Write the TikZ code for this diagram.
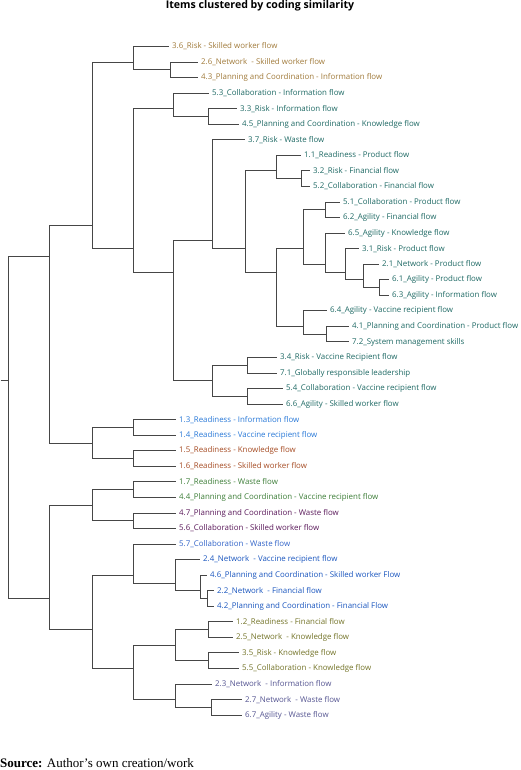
\documentclass[tikz,border=0pt]{standalone}
\usepackage{fontspec}
\newfontfamily\labfont{Open Sans}
\newfontfamily\srcfont{Liberation Serif}
\definecolor{cgold}{RGB}{160,122,58}
\definecolor{cteal}{RGB}{30,105,100}
\definecolor{cblueA}{RGB}{40,120,215}
\definecolor{crust}{RGB}{165,75,35}
\definecolor{cgreen}{RGB}{60,125,55}
\definecolor{cpurple}{RGB}{90,25,90}
\definecolor{cblueB}{RGB}{50,100,200}
\definecolor{cblueC}{RGB}{25,85,190}
\definecolor{colive}{RGB}{115,115,40}
\definecolor{cslate}{RGB}{85,85,145}
\definecolor{cline}{RGB}{70,70,70}
\tikzset{
  leaf/.style={anchor=west,inner xsep=3pt,inner ysep=0pt,font=\labfont\fontsize{7.9}{9}\selectfont,text=#1},
  br/.style={draw=cline,line width=0.95pt},
}
\begin{document}
\begin{tikzpicture}[x=1pt,y=-1pt]
\useasboundingbox (0,0) rectangle (520,770);
% title and source
\node[anchor=base,inner sep=0pt,font=\labfont\bfseries\fontsize{10.6}{12}\selectfont] (title) at (260,9) {Items clustered by coding similarity};
\node[anchor=base west,inner sep=0pt,font=\srcfont\fontsize{13}{15}\selectfont] (source) at (0,767) {\textbf{Source:} Author’s own creation/work};
% leaves
\node[leaf=cgold] (l1) at (169,46.50) {3.6\_Risk - Skilled worker flow};
\node[leaf=cgold] (l2) at (198,62.05) {2.6\_Network~ - Skilled worker flow};
\node[leaf=cgold] (l3) at (198,77.60) {4.3\_Planning and Coordination - Information flow};
\node[leaf=cteal] (l4) at (209,93.15) {5.3\_Collaboration - Information flow};
\node[leaf=cteal] (l5) at (237,108.70) {3.3\_Risk - Information flow};
\node[leaf=cteal] (l6) at (239,124.25) {4.5\_Planning and Coordination - Knowledge flow};
\node[leaf=cteal] (l7) at (245,139.80) {3.7\_Risk - Waste flow};
\node[leaf=cteal] (l8) at (301,155.35) {1.1\_Readiness - Product flow};
\node[leaf=cteal] (l9) at (310,170.90) {3.2\_Risk - Financial flow};
\node[leaf=cteal] (l10) at (310,186.45) {5.2\_Collaboration - Financial flow};
\node[leaf=cteal] (l11) at (340,202.00) {5.1\_Collaboration - Product flow};
\node[leaf=cteal] (l12) at (340,217.55) {6.2\_Agility - Financial flow};
\node[leaf=cteal] (l13) at (345,233.10) {6.5\_Agility - Knowledge flow};
\node[leaf=cteal] (l14) at (359,248.65) {3.1\_Risk - Product flow};
\node[leaf=cteal] (l15) at (379,264.20) {2.1\_Network - Product flow};
\node[leaf=cteal] (l16) at (389,279.75) {6.1\_Agility - Product flow};
\node[leaf=cteal] (l17) at (389,295.30) {6.3\_Agility - Information flow};
\node[leaf=cteal] (l18) at (327,310.85) {6.4\_Agility - Vaccine recipient flow};
\node[leaf=cteal] (l19) at (349,326.40) {4.1\_Planning and Coordination - Product flow};
\node[leaf=cteal] (l20) at (349,341.95) {7.2\_System management skills};
\node[leaf=cteal] (l21) at (277,357.50) {3.4\_Risk - Vaccine Recipient flow};
\node[leaf=cteal] (l22) at (277,373.05) {7.1\_Globally responsible leadership};
\node[leaf=cteal] (l23) at (283,388.60) {5.4\_Collaboration - Vaccine recipient flow};
\node[leaf=cteal] (l24) at (283,404.15) {6.6\_Agility - Skilled worker flow};
\node[leaf=cblueA] (l25) at (176,419.70) {1.3\_Readiness - Information flow};
\node[leaf=cblueA] (l26) at (176,435.25) {1.4\_Readiness - Vaccine recipient flow};
\node[leaf=crust] (l27) at (176,450.80) {1.5\_Readiness - Knowledge flow};
\node[leaf=crust] (l28) at (176,466.35) {1.6\_Readiness - Skilled worker flow};
\node[leaf=cgreen] (l29) at (176,481.90) {1.7\_Readiness - Waste flow};
\node[leaf=cgreen] (l30) at (176,497.45) {4.4\_Planning and Coordination - Vaccine recipient flow};
\node[leaf=cpurple] (l31) at (176,513.00) {4.7\_Planning and Coordination - Waste flow};
\node[leaf=cpurple] (l32) at (176,528.55) {5.6\_Collaboration - Skilled worker flow};
\node[leaf=cblueB] (l33) at (176,544.10) {5.7\_Collaboration - Waste flow};
\node[leaf=cblueC] (l34) at (200,559.65) {2.4\_Network~ - Vaccine recipient flow};
\node[leaf=cblueC] (l35) at (207,575.20) {4.6\_Planning and Coordination - Skilled worker Flow};
\node[leaf=cblueC] (l36) at (214,590.75) {2.2\_Network~ - Financial flow};
\node[leaf=cblueC] (l37) at (214,606.30) {4.2\_Planning and Coordination - Financial Flow};
\node[leaf=colive] (l38) at (233,621.85) {1.2\_Readiness - Financial flow};
\node[leaf=colive] (l39) at (233,637.40) {2.5\_Network~ - Knowledge flow};
\node[leaf=colive] (l40) at (239,652.95) {3.5\_Risk - Knowledge flow};
\node[leaf=colive] (l41) at (239,668.50) {5.5\_Collaboration - Knowledge flow};
\node[leaf=cslate] (l42) at (212,684.05) {2.3\_Network~ - Information flow};
\node[leaf=cslate] (l43) at (242,699.60) {2.7\_Network~ - Waste flow};
\node[leaf=cslate] (l44) at (242,715.15) {6.7\_Agility - Waste flow};
% internal nodes
\coordinate (stub) at (0.7,380.83);
\coordinate (root) at (8,380.83);
\coordinate (P1) at (49,256.43);
\coordinate (C) at (92,225.33);
\coordinate (A) at (133,62.05);
\coordinate (B) at (170,69.83);
\coordinate (D) at (133,248.65);
\coordinate (E) at (173,108.70);
\coordinate (F) at (208,116.48);
\coordinate (G) at (173,271.98);
\coordinate (H) at (212,240.88);
\coordinate (J) at (245,248.65);
\coordinate (K) at (276,170.90);
\coordinate (M) at (301,178.68);
\coordinate (L) at (276,271.98);
\coordinate (N) at (303,248.65);
\coordinate (Pn) at (325,209.78);
\coordinate (S) at (325,264.20);
\coordinate (T) at (345,271.98);
\coordinate (U) at (363,279.75);
\coordinate (V) at (379,287.53);
\coordinate (O) at (303,326.40);
\coordinate (W) at (326,334.18);
\coordinate (I) at (212,380.83);
\coordinate (X) at (247,365.28);
\coordinate (Y) at (247,396.38);
\coordinate (Q) at (92,442.98);
\coordinate (Z1) at (133,427.48);
\coordinate (Z2) at (133,458.58);
\coordinate (P2) at (49,598.53);
\coordinate (R1) at (92,505.23);
\coordinate (Z3) at (133,489.68);
\coordinate (Z4) at (133,520.78);
\coordinate (R2) at (92,629.63);
\coordinate (R3) at (133,575.20);
\coordinate (R5) at (175,582.98);
\coordinate (R6) at (200,590.75);
\coordinate (R7) at (207,598.53);
\coordinate (R4) at (133,668.50);
\coordinate (R8) at (175,645.18);
\coordinate (R10) at (208,629.63);
\coordinate (R11) at (208,660.73);
\coordinate (R9) at (175,699.60);
\coordinate (R12) at (211,707.38);
% connectors
\draw[br] (stub) -- (root);
\draw[br] (root) |- (P1); \draw[br] (root) |- (P2);
\draw[br] (P1) |- (C); \draw[br] (P1) |- (Q);
\draw[br] (C) |- (A); \draw[br] (C) |- (D);
\draw[br] (A) |- (l1.west); \draw[br] (A) |- (B);
\draw[br] (B) |- (l2.west); \draw[br] (B) |- (l3.west);
\draw[br] (D) |- (E); \draw[br] (D) |- (G);
\draw[br] (E) |- (l4.west); \draw[br] (E) |- (F);
\draw[br] (F) |- (l5.west); \draw[br] (F) |- (l6.west);
\draw[br] (G) |- (H); \draw[br] (G) |- (I);
\draw[br] (H) |- (l7.west); \draw[br] (H) |- (J);
\draw[br] (J) |- (K); \draw[br] (J) |- (L);
\draw[br] (K) |- (l8.west); \draw[br] (K) |- (M);
\draw[br] (M) |- (l9.west); \draw[br] (M) |- (l10.west);
\draw[br] (L) |- (N); \draw[br] (L) |- (O);
\draw[br] (N) |- (Pn); \draw[br] (N) |- (S);
\draw[br] (Pn) |- (l11.west); \draw[br] (Pn) |- (l12.west);
\draw[br] (S) |- (l13.west); \draw[br] (S) |- (T);
\draw[br] (T) |- (l14.west); \draw[br] (T) |- (U);
\draw[br] (U) |- (l15.west); \draw[br] (U) |- (V);
\draw[br] (V) |- (l16.west); \draw[br] (V) |- (l17.west);
\draw[br] (O) |- (l18.west); \draw[br] (O) |- (W);
\draw[br] (W) |- (l19.west); \draw[br] (W) |- (l20.west);
\draw[br] (I) |- (X); \draw[br] (I) |- (Y);
\draw[br] (X) |- (l21.west); \draw[br] (X) |- (l22.west);
\draw[br] (Y) |- (l23.west); \draw[br] (Y) |- (l24.west);
\draw[br] (Q) |- (Z1); \draw[br] (Q) |- (Z2);
\draw[br] (Z1) |- (l25.west); \draw[br] (Z1) |- (l26.west);
\draw[br] (Z2) |- (l27.west); \draw[br] (Z2) |- (l28.west);
\draw[br] (P2) |- (R1); \draw[br] (P2) |- (R2);
\draw[br] (R1) |- (Z3); \draw[br] (R1) |- (Z4);
\draw[br] (Z3) |- (l29.west); \draw[br] (Z3) |- (l30.west);
\draw[br] (Z4) |- (l31.west); \draw[br] (Z4) |- (l32.west);
\draw[br] (R2) |- (R3); \draw[br] (R2) |- (R4);
\draw[br] (R3) |- (l33.west); \draw[br] (R3) |- (R5);
\draw[br] (R5) |- (l34.west); \draw[br] (R5) |- (R6);
\draw[br] (R6) |- (l35.west); \draw[br] (R6) |- (R7);
\draw[br] (R7) |- (l36.west); \draw[br] (R7) |- (l37.west);
\draw[br] (R4) |- (R8); \draw[br] (R4) |- (R9);
\draw[br] (R8) |- (R10); \draw[br] (R8) |- (R11);
\draw[br] (R10) |- (l38.west); \draw[br] (R10) |- (l39.west);
\draw[br] (R11) |- (l40.west); \draw[br] (R11) |- (l41.west);
\draw[br] (R9) |- (l42.west); \draw[br] (R9) |- (R12);
\draw[br] (R12) |- (l43.west); \draw[br] (R12) |- (l44.west);
\end{tikzpicture}
\end{document}
